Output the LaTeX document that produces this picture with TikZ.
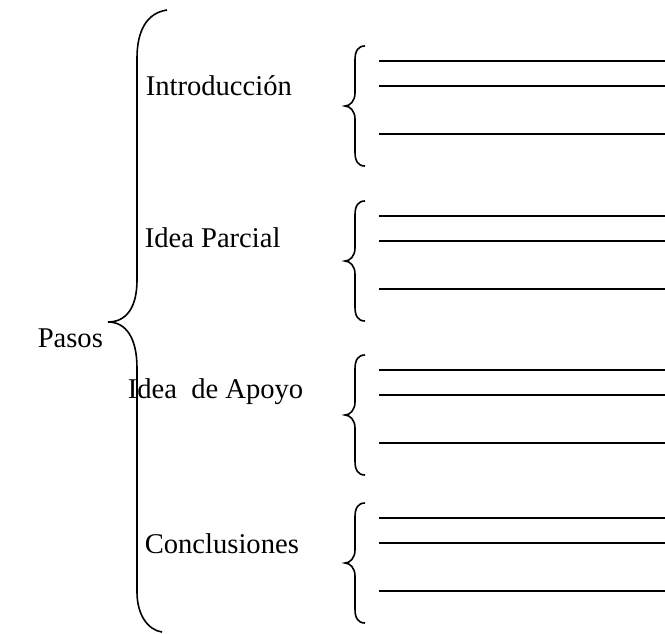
\documentclass[tikz,border=0pt]{standalone}
\usepackage{fontspec}
\setmainfont{Liberation Serif}
\usetikzlibrary{positioning}

\begin{document}
\begin{tikzpicture}[x=0.5pt, y=-0.5pt, line width=0.75pt,
  label/.style={anchor=base west, inner sep=0pt, font=\fontsize{14.3}{16}\selectfont},
  brace/.style={draw, line width=0.8pt}]
  \useasboundingbox (0,0) rectangle (665,633);

  \node[label] (pasos)   at (37,347)  {Pasos};
  \node[label] (intro)   at (145,95)  {Introducción};
  \node[label] (parcial) at (144,247) {Idea Parcial};
  \node[label] (apoyo)   at (127,398) {Idea\ \ de Apoyo};
  \node[label] (concl)   at (144,553) {Conclusiones};

  % llave grande
  \draw[brace] (167,10) .. controls (146,13) and (137,32) .. (137,58) -- (137,280)
    .. controls (137,308) and (126,322) .. (108,322)
    .. controls (126,322) and (137,338) .. (137,368) -- (137,592)
    .. controls (137,615) and (148,630) .. (162,632);

  % llaves pequeñas y renglones
  \foreach \t in {46,201,355,503} {
    \draw[brace] (365,\t) .. controls (358,\t) and (355,\t+5) .. (355,\t+14) -- (355,\t+47)
      .. controls (355,\t+55) and (350,\t+60) .. (345,\t+60)
      .. controls (350,\t+60) and (355,\t+65) .. (355,\t+73) -- (355,\t+106)
      .. controls (355,\t+115) and (358,\t+120) .. (365,\t+120);
    \foreach \d in {15,40,88}
      \draw (379,\t+\d) -- (665,\t+\d);
  }
\end{tikzpicture}
\end{document}
